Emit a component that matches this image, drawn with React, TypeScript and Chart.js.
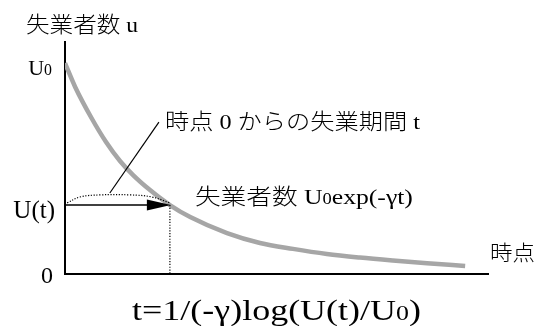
import React, { useEffect, useRef } from 'react';
import { Chart, registerables } from 'chart.js';

Chart.register(...registerables);

// ---- data ----
const timeT = [0, 2.4, 6.4, 9.7, 13, 16.1, 20.1, 24.8, 29.6, 38.3, 46.1, 53.9, 61.9, 69.7, 77.5, 85.6, 94.6];
const unemployed = [1.0, 0.887, 0.735, 0.626, 0.536, 0.469, 0.398, 0.327, 0.27, 0.194, 0.147, 0.119, 0.095, 0.078, 0.064, 0.051, 0.038];
const U0 = 1.0;
const tPoint = 24.8;
const uAtT = 0.327;
const arcX = [0.5, 3.5, 8.3, 15.4, 20.6, 24.8];
const arcY = [0.337, 0.365, 0.375, 0.375, 0.365, 0.337];
const leaderX = [10.6, 22.2];
const leaderY = [0.384, 0.72];
const xMax = 100;
const yMax = 1.1;

const yAxisTitle = '失業者数 u';
const xAxisTitle = '時点';
const durationLabel = '時点 0 からの失業期間 t';
const curveLabel = [{ text: '失業者数 ' }, { text: 'U' }, { text: '0', sub: true }, { text: 'exp(-γt)' }];
const formulaLabel = [{ text: 't=1/(-γ)log(U(t)/U' }, { text: '0', sub: true }, { text: ')' }];
const tickU0 = [{ text: 'U' }, { text: '0', sub: true }];
const tickUt = [{ text: 'U(t)' }];
const tickZero = [{ text: '0' }];

type Seg = { text: string; sub?: boolean };

const FAMILY = "'Liberation Serif', 'Noto Sans CJK JP', serif";

function drawRich(
  ctx: CanvasRenderingContext2D,
  segs: Seg[],
  x: number,
  y: number,
  size: number,
  align: 'left' | 'right' | 'center',
  width?: number,
  subRatio = 0.72
) {
  const fontFor = (s: Seg) => `300 ${s.sub ? size * subRatio : size}px ${FAMILY}`;
  const widths = segs.map((s) => {
    ctx.font = fontFor(s);
    return ctx.measureText(s.text).width;
  });
  const total = widths.reduce((a, b) => a + b, 0);
  const sx = width ? width / total : 1;
  const w = total * sx;
  const start = align === 'left' ? x : align === 'right' ? x - w : x - w / 2;
  ctx.save();
  ctx.translate(start, y);
  ctx.scale(sx, 1);
  ctx.fillStyle = '#000';
  ctx.textBaseline = 'alphabetic';
  ctx.textAlign = 'left';
  let cx = 0;
  segs.forEach((s, i) => {
    ctx.font = fontFor(s);
    ctx.fillText(s.text, cx, 0);
    cx += widths[i];
  });
  ctx.restore();
}

const annotations = {
  id: 'annotations',
  afterDatasetsDraw(chart: any) {
    const ctx: CanvasRenderingContext2D = chart.ctx;
    const xs = chart.scales.x;
    const ys = chart.scales.y;
    const area = chart.chartArea;

    // arrow head at U(t)
    const tipX = xs.getPixelForValue(tPoint) + 1;
    const tipY = ys.getPixelForValue(uAtT);
    ctx.save();
    ctx.fillStyle = '#000';
    ctx.beginPath();
    ctx.moveTo(tipX, tipY);
    ctx.lineTo(tipX - 24, tipY - 5.5);
    ctx.lineTo(tipX - 24, tipY + 5.5);
    ctx.closePath();
    ctx.fill();
    ctx.restore();

    // tick-like labels
    drawRich(ctx, tickU0, area.left - 13, ys.getPixelForValue(U0) + 12, 22, 'right');
    drawRich(ctx, tickUt, area.left - 10, ys.getPixelForValue(uAtT) + 12.5, 25, 'right');
    drawRich(ctx, tickZero, area.left - 12, ys.getPixelForValue(0) + 9, 24, 'right');

    // axis titles
    drawRich(ctx, [{ text: yAxisTitle }], area.left - 39, area.top - 10, 22, 'left', 112);
    drawRich(ctx, [{ text: xAxisTitle }], area.right + 2, ys.getPixelForValue(0) - 14, 21, 'left', 45);

    // annotations
    const lx = xs.getPixelForValue(leaderX[1]);
    const ly = ys.getPixelForValue(leaderY[1]);
    drawRich(ctx, [{ text: durationLabel }], lx + 6, ly + 7, 22, 'left', 255);
    drawRich(ctx, curveLabel, xs.getPixelForValue(tPoint) + 25, tipY - 1.5, 22, 'left', 218);

    // formula under the x axis
    drawRich(ctx, formulaLabel, (area.left + area.right) / 2, ys.getPixelForValue(0) + 46, 30, 'center', 289);
  },
};

export default function App() {
  const ref = useRef<HTMLCanvasElement | null>(null);

  useEffect(() => {
    if (!ref.current) return;
    const curve = timeT.map((t, i) => ({ x: t, y: unemployed[i] }));
    const arc = arcX.map((t, i) => ({ x: t, y: arcY[i] }));
    const chart = new Chart(ref.current, {
      type: 'line',
      data: {
        datasets: [
          {
            data: [{ x: 0, y: uAtT }, { x: tPoint - 4, y: uAtT }],
            borderColor: '#000',
            borderWidth: 1.6,
            pointRadius: 0,
          },
          {
            data: [{ x: tPoint, y: uAtT }, { x: tPoint, y: 0 }],
            borderColor: '#000',
            borderWidth: 1.2,
            borderDash: [1.2, 1.6],
            pointRadius: 0,
          },
          {
            data: arc,
            borderColor: '#000',
            borderWidth: 1.2,
            borderDash: [1.2, 1.6],
            tension: 0.4,
            pointRadius: 0,
          },
          {
            data: leaderX.map((t, i) => ({ x: t, y: leaderY[i] })),
            borderColor: '#000',
            borderWidth: 1.2,
            pointRadius: 0,
            clip: false as any,
          },
          {
            data: curve,
            borderColor: '#a6a6a6',
            borderWidth: 4.5,
            borderCapStyle: 'butt',
            cubicInterpolationMode: 'monotone',
            pointRadius: 0,
          },
        ],
      },
      options: {
        responsive: false,
        animation: false,
        devicePixelRatio: 1,
        layout: { padding: { left: 65, right: 48, top: 42, bottom: 52 } },
        plugins: { legend: { display: false }, tooltip: { enabled: false } },
        events: [],
        scales: {
          x: {
            type: 'linear',
            min: 0,
            max: xMax,
            grid: { display: false },
            ticks: { display: false },
            border: { display: true, color: '#000', width: 2 },
            afterFit: (s: any) => {
              s.height = 0;
            },
          },
          y: {
            type: 'linear',
            min: 0,
            max: yMax,
            grid: { display: false },
            ticks: { display: false },
            border: { display: true, color: '#000', width: 2 },
            afterFit: (s: any) => {
              s.width = 0;
            },
          },
        },
      },
      plugins: [annotations],
    });
    return () => chart.destroy();
  }, []);

  return (
    <div style={{ position: 'fixed', left: 0, top: 0, width: 536, height: 326, background: '#fff' }}>
      <canvas ref={ref} width={536} height={326} style={{ display: 'block' }} />
    </div>
  );
}
